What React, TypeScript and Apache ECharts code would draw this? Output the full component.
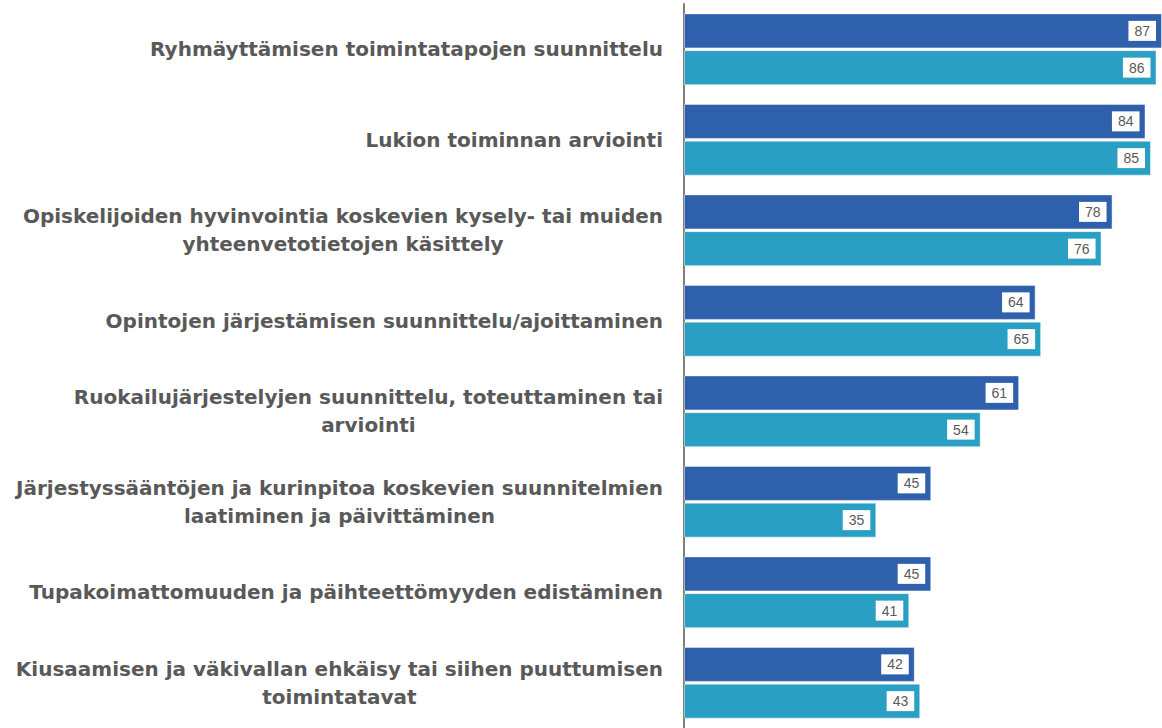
import React, { useEffect, useRef } from "react";
import * as echarts from "echarts";

const categories: string[] = [
  "Ryhmäyttämisen toimintatapojen suunnittelu",
  "Lukion toiminnan arviointi",
  "Opiskelijoiden hyvinvointia koskevien kysely- tai muiden\nyhteenvetotietojen käsittely",
  "Opintojen järjestämisen suunnittelu/ajoittaminen",
  "Ruokailujärjestelyjen suunnittelu, toteuttaminen tai\narviointi",
  "Järjestyssääntöjen ja kurinpitoa koskevien suunnitelmien\nlaatiminen ja päivittäminen",
  "Tupakoimattomuuden ja päihteettömyyden edistäminen",
  "Kiusaamisen ja väkivallan ehkäisy tai siihen puuttumisen\ntoimintatavat",
];

const seriesA: number[] = [87, 84, 78, 64, 61, 45, 45, 42];
const seriesB: number[] = [86, 85, 76, 65, 54, 35, 41, 43];

const LABEL_FONT = "'DejaVu Sans', sans-serif";
const VALUE_FONT = "'Liberation Sans', Arial, sans-serif";

export default function App() {
  const ref = useRef<HTMLDivElement>(null);

  useEffect(() => {
    if (!ref.current) return;
    const chart = echarts.init(ref.current, null, { renderer: "svg" });
    const valueLabel = {
      show: true,
      position: "insideRight",
      distance: 6,
      backgroundColor: "#ffffff",
      padding: [3, 6, 3, 6],
      color: "#595959",
      fontSize: 14,
      fontFamily: VALUE_FONT,
    };
    chart.setOption({
      animation: false,
      grid: { left: 684, right: 0, top: 4, bottom: -4, containLabel: false },
      xAxis: {
        type: "value",
        min: 0,
        max: 87,
        show: false,
      },
      yAxis: {
        type: "category",
        inverse: true,
        data: categories,
        axisLine: { show: true, lineStyle: { color: "#7f7f7f", width: 2 } },
        axisTick: { show: false },
        splitLine: { show: false },
        axisLabel: {
          margin: 21,
          align: "right",
          formatter: (v: string) =>
            v
              .split("\n")
              .map((l) => `{c|${l}}`)
              .join("\n"),
          rich: {
            c: {
              align: "center",
              fontSize: 20,
              fontWeight: "bold",
              color: "#595959",
              lineHeight: 28,
              fontFamily: LABEL_FONT,
            },
          },
        },
      },
      series: [
        {
          name: "A",
          type: "bar",
          data: seriesA,
          barWidth: 35,
          barGap: "5%",
          itemStyle: {
            color: "#2f60ab",
            borderColor: "rgba(255,255,255,0.45)",
            borderWidth: 1,
          },
          label: valueLabel,
        },
        {
          name: "B",
          type: "bar",
          data: seriesB,
          barWidth: 35,
          barGap: "5%",
          itemStyle: {
            color: "#29a0c3",
            borderColor: "rgba(255,255,255,0.45)",
            borderWidth: 1,
          },
          label: valueLabel,
        },
      ],
    });
    return () => chart.dispose();
  }, []);

  return (
    <div
      ref={ref}
      style={{ position: "absolute", left: 0, top: 0, width: 1162, height: 728 }}
    />
  );
}
